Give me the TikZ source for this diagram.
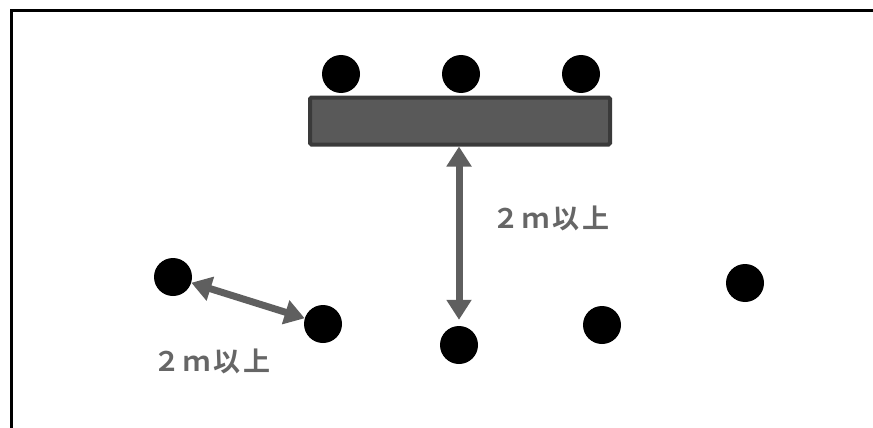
\documentclass[tikz,border=0pt]{standalone}
\usepackage{fontspec}
\newfontfamily\jp[LetterSpace=12]{Noto Sans CJK JP Bold}
\usetikzlibrary{arrows.meta}
\definecolor{arrowgray}{HTML}{5F5F5F}
\definecolor{tablefill}{HTML}{595959}
\definecolor{tableedge}{HTML}{3A3A3A}
\definecolor{textgray}{HTML}{666666}
\tikzset{
  person/.style={circle, fill=black, minimum size=38pt, inner sep=0pt},
  gap/.style={draw=arrowgray, line width=7pt, {Triangle[width=24pt,length=20pt]}-{Triangle[width=24pt,length=20pt]}},
  dist/.style={font=\jp\fontsize{27}{27}\selectfont, text=textgray, inner sep=0pt, anchor=center}
}
\begin{document}
\begin{tikzpicture}[x=1pt,y=-1pt]
\useasboundingbox (0,0) rectangle (873,428);
\draw[line width=3pt] (11,440) -- (11,11) -- (890,11);
\node[draw=tableedge, fill=tablefill, line width=4pt, rounded corners=1.5pt, minimum width=300pt, minimum height=47pt, inner sep=0pt] (table) at (460,121) {};
\node[person] (t1) at (341,74) {};
\node[person] (t2) at (461,74) {};
\node[person] (t3) at (581,74) {};
\node[person] (p1) at (173,277) {};
\node[person] (p2) at (323,324) {};
\node[person] (p3) at (459,345) {};
\node[person] (p4) at (602,325) {};
\node[person] (p5) at (745,283) {};
\draw[gap] (p1) -- (p2);
\draw[gap] (table.south -| p3) -- ([yshift=6pt]p3.north);
\node[dist] (l1) at (551,218) {２ｍ以上};
\node[dist] (l2) at (212,361) {２ｍ以上};
\end{tikzpicture}
\end{document}
